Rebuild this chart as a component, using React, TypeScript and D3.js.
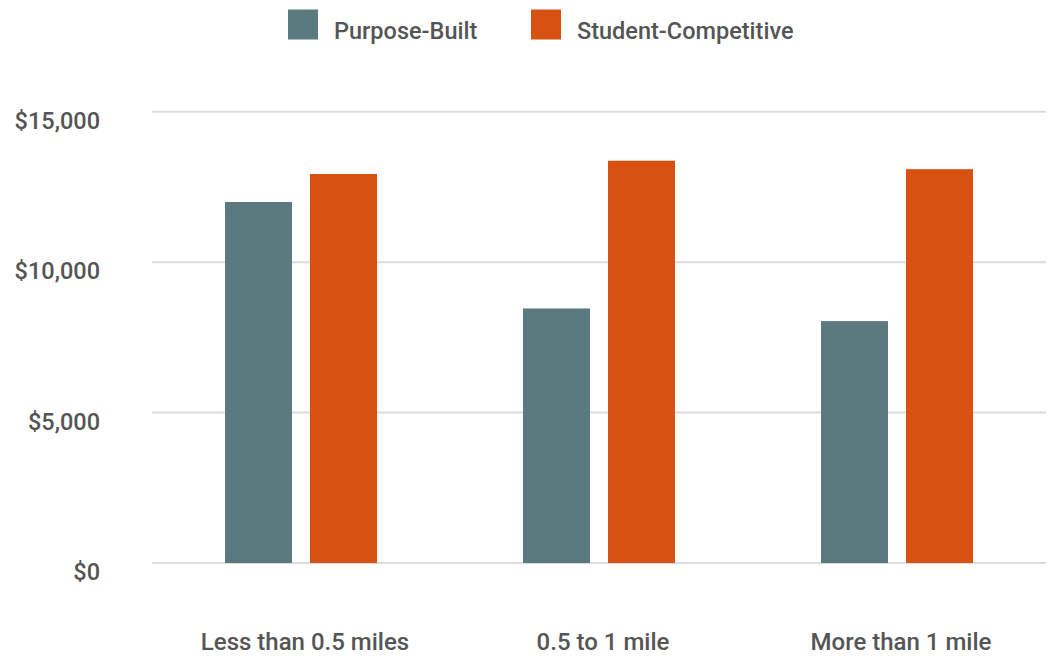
import React from "react";
import * as d3 from "d3";

const categories = ["Less than 0.5 miles", "0.5 to 1 mile", "More than 1 mile"];
const seriesNames = ["Purpose-Built", "Student-Competitive"];
const purposeBuilt = [12000, 8460, 8040];
const studentCompetitive = [12930, 13370, 13090];
const yTicks = [0, 5000, 10000, 15000];

const COLORS = ["#5a7a80", "#d75112"];
const WIDTH = 1051;
const HEIGHT = 656;
const FONT = "Roboto, 'Open Sans', sans-serif";
const TEXT = "#555555";

export default function App() {
  const x = d3.scaleBand<string>().domain(categories).range([152, 1046]);
  const y = d3.scaleLinear().domain([0, 15000]).range([563, 111.7]);
  const barW = 67;
  const gap = 18;
  const series = [purposeBuilt, studentCompetitive];
  const fmt = (v: number) => "$" + d3.format(",")(v);

  return (
    <svg
      width={WIDTH}
      height={HEIGHT}
      style={{ position: "absolute", left: 0, top: 0, fontFamily: FONT }}
    >
      {/* gridlines */}
      {yTicks.map((t) => (
        <line
          key={t}
          x1={152}
          x2={1046}
          y1={y(t)}
          y2={y(t)}
          stroke="#dddddd"
          strokeWidth={2}
        />
      ))}
      {/* y axis labels */}
      {yTicks.map((t) => (
        <text
          key={"l" + t}
          x={100}
          y={y(t) + 17}
          textAnchor="end"
          fontSize={23.5}
          fontWeight={500}
          fill={TEXT}
        >
          {fmt(t)}
        </text>
      ))}
      {/* bars */}
      {categories.map((c, i) => {
        const cx = (x(c) as number) + x.bandwidth() / 2;
        return series.map((s, j) => {
          const left = j === 0 ? cx - gap / 2 - barW : cx + gap / 2;
          return (
            <rect
              key={c + j}
              x={left}
              y={y(s[i])}
              width={barW}
              height={y(0) - y(s[i])}
              fill={COLORS[j]}
            />
          );
        });
      })}
      {/* category labels */}
      {categories.map((c) => (
        <text
          key={"c" + c}
          x={(x(c) as number) + x.bandwidth() / 2 + 4}
          y={650}
          textAnchor="middle"
          fontSize={24}
          fontWeight={500}
          fill={TEXT}
        >
          {c}
        </text>
      ))}
      {/* legend */}
      {seriesNames.map((n, j) => {
        const lx = j === 0 ? 288 : 531;
        return (
          <g key={n}>
            <rect x={lx} y={9.5} width={30} height={30} fill={COLORS[j]} />
            <text
              x={lx + 46}
              y={38.5}
              fontSize={23.5}
              fontWeight={500}
              fill={TEXT}
            >
              {n}
            </text>
          </g>
        );
      })}
    </svg>
  );
}
